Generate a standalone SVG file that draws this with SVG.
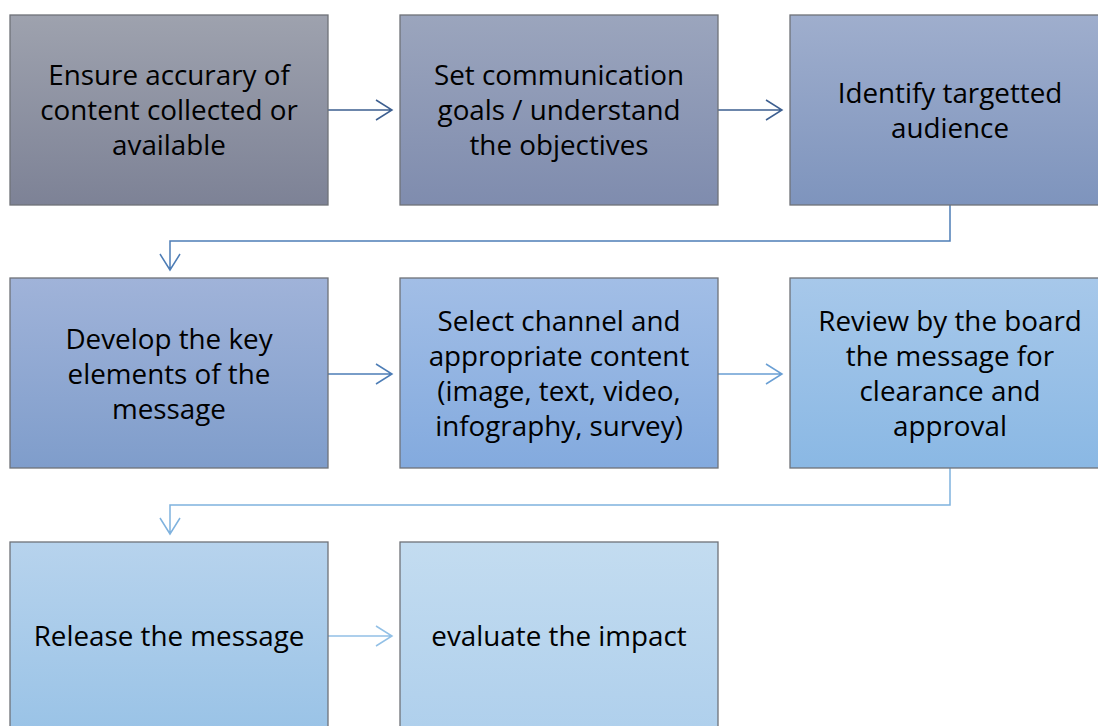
<svg xmlns="http://www.w3.org/2000/svg" width="1098" height="726" viewBox="0 0 1098 726">
<defs>
<linearGradient id="g1" x1="0" y1="0" x2="0" y2="1"><stop offset="0" stop-color="#9ea2ae"/><stop offset="1" stop-color="#7d8296"/></linearGradient>
<linearGradient id="g2" x1="0" y1="0" x2="0" y2="1"><stop offset="0" stop-color="#9ba5bd"/><stop offset="1" stop-color="#7f8cae"/></linearGradient>
<linearGradient id="g3" x1="0" y1="0" x2="0" y2="1"><stop offset="0" stop-color="#9faecd"/><stop offset="1" stop-color="#7e94bd"/></linearGradient>
<linearGradient id="g4" x1="0" y1="0" x2="0" y2="1"><stop offset="0" stop-color="#a0b3d9"/><stop offset="1" stop-color="#7f9dcb"/></linearGradient>
<linearGradient id="g5" x1="0" y1="0" x2="0" y2="1"><stop offset="0" stop-color="#a2bee6"/><stop offset="1" stop-color="#83aade"/></linearGradient>
<linearGradient id="g6" x1="0" y1="0" x2="0" y2="1"><stop offset="0" stop-color="#a7c8ea"/><stop offset="1" stop-color="#8ab8e4"/></linearGradient>
<linearGradient id="g7" x1="0" y1="0" x2="0" y2="1"><stop offset="0" stop-color="#b7d3ed"/><stop offset="1" stop-color="#98c2e6"/></linearGradient>
<linearGradient id="g8" x1="0" y1="0" x2="0" y2="1"><stop offset="0" stop-color="#c3dcf0"/><stop offset="1" stop-color="#aecfec"/></linearGradient>
</defs>
<style>
.box{stroke:#6f7278;stroke-width:1.3}
.t{font-family:"Open Sans","Liberation Sans",sans-serif;font-size:27.8px;fill:#000;text-anchor:middle}
.c{fill:none;stroke-width:1.5}
</style>
<rect width="1098" height="726" fill="#fff"/>
<g id="connectors">
<path class="c" stroke="#3d5f90" d="M328,110 H392 M376,100 L392,110 L376,120"/>
<path class="c" stroke="#3d5f90" d="M718,110 H782 M766,100 L782,110 L766,120"/>
<path class="c" stroke="#4d7db6" d="M950,205 V241 H170 V270 M160,254 L170,270 L180,254"/>
<path class="c" stroke="#4d7db6" d="M328,374 H392 M376,364 L392,374 L376,384"/>
<path class="c" stroke="#6a9fd4" d="M718,374 H782 M766,364 L782,374 L766,384"/>
<path class="c" stroke="#7fb2de" d="M950,468 V505 H170 V534 M160,518 L170,534 L180,518"/>
<path class="c" stroke="#92c0e6" d="M328,636 H392 M376,626 L392,636 L376,646"/>
</g>
<g id="n1"><rect class="box" x="10" y="15" width="318" height="190" fill="url(#g1)"/>
<text class="t" x="169" y="85">Ensure accurary of</text><text class="t" x="169" y="120">content collected or</text><text class="t" x="169" y="155">available</text></g>
<g id="n2"><rect class="box" x="400" y="15" width="318" height="190" fill="url(#g2)"/>
<text class="t" x="559" y="85">Set communication</text><text class="t" x="559" y="120">goals / understand</text><text class="t" x="559" y="155">the objectives</text></g>
<g id="n3"><rect class="box" x="790" y="15" width="318" height="190" fill="url(#g3)"/>
<text class="t" x="950" y="103">Identify targetted</text><text class="t" x="950" y="138">audience</text></g>
<g id="n4"><rect class="box" x="10" y="278" width="318" height="190" fill="url(#g4)"/>
<text class="t" x="169" y="349">Develop the key</text><text class="t" x="169" y="384">elements of the</text><text class="t" x="169" y="419">message</text></g>
<g id="n5"><rect class="box" x="400" y="278" width="318" height="190" fill="url(#g5)"/>
<text class="t" x="559" y="331">Select channel and</text><text class="t" x="559" y="366">appropriate content</text><text class="t" x="559" y="401">(image, text, video,</text><text class="t" x="559" y="436">infography, survey)</text></g>
<g id="n6"><rect class="box" x="790" y="278" width="318" height="190" fill="url(#g6)"/>
<text class="t" x="950" y="331">Review by the board</text><text class="t" x="950" y="366">the message for</text><text class="t" x="950" y="401">clearance and</text><text class="t" x="950" y="436">approval</text></g>
<g id="n7"><rect class="box" x="10" y="542" width="318" height="200" fill="url(#g7)"/>
<text class="t" x="169" y="646">Release the message</text></g>
<g id="n8"><rect class="box" x="400" y="542" width="318" height="200" fill="url(#g8)"/>
<text class="t" x="559" y="646">evaluate the impact</text></g>
</svg>
